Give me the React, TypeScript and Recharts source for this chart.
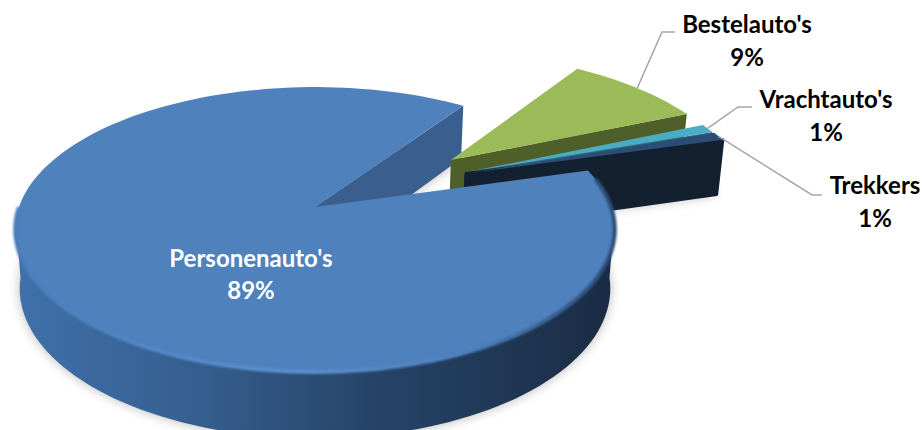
import React from "react";
import { PieChart, Pie } from "recharts";

const WIDTH = 923;
const HEIGHT = 430;

const categories = ["Personenauto's", "Bestelauto's", "Vrachtauto's", "Trekkers"];
const shares = [89, 9, 1, 1];

const rows = categories.map((name, i) => ({ name, value: shares[i] }));

const topColors = ["#4f81bd", "#9bbb59", "#4bacc6", "#2c4d75"];
const wallColors = ["#3a5f8e", "#4f5f2a", "#2a6f82", "#12202f"];

// exploded slices are shifted on the disc plane, in units of the radius
const explode = [
  [0, 0],
  [0.485, -0.357],
  [0.525, -0.258],
  [0.53, -0.25],
];

// label placement: text centre, two baselines and optional leader elbow
const labelSpots = [
  { x: 251, y1: 267, y2: 299, color: "#ffffff", elbow: null },
  { x: 747, y1: 33, y2: 66, color: "#000000", elbow: [[662, 32], [675, 32]] },
  { x: 826, y1: 108, y2: 141, color: "#000000", elbow: [[738, 107], [752, 107]] },
  { x: 875, y1: 194, y2: 227, color: "#000000", elbow: [[812, 195], [822, 195]] },
];

const PERSPECTIVE = -0.158;
const SQUASH = 0.469;
const BASE_SCALE = 0.985;
const DEPTH = 58;
const SLICE_START = 15.9;

const rad = (d: number) => (d * Math.PI) / 180;

// disc plane to screen, level 0 is the top face and level 1 the bottom face
const project = (cx, cy, R, u, v, level = 0) => {
  const w = 1 + PERSPECTIVE * v;
  const s = level ? BASE_SCALE : 1;
  return [cx + (s * R * u) / w, cy + (s * R * SQUASH * v) / w + (level * DEPTH) / w];
};

const rimPoint = (p, angle, shift, level = 0) =>
  project(p.cx, p.cy, p.outerRadius, shift[0] + Math.cos(rad(angle)), shift[1] - Math.sin(rad(angle)), level);

const toPath = (pts, close = true) =>
  pts.map((q, i) => `${i ? "L" : "M"}${q[0].toFixed(1)} ${q[1].toFixed(1)}`).join("") + (close ? "Z" : "");

const sweep = (from: number, to: number) => {
  const n = Math.max(2, Math.ceil(Math.abs(to - from) / 2));
  const out: number[] = [];
  for (let i = 0; i <= n; i++) out.push(from + ((to - from) * i) / n);
  return out;
};

const facePath = (p, shift, level = 0) => {
  const apex = project(p.cx, p.cy, p.outerRadius, shift[0], shift[1], level);
  return toPath([apex, ...sweep(p.startAngle, p.endAngle).map((a) => rimPoint(p, a, shift, level))]);
};

const wallPath = (p, shift) => {
  const a = project(p.cx, p.cy, p.outerRadius, shift[0], shift[1], 0);
  const b = project(p.cx, p.cy, p.outerRadius, shift[0], shift[1], 1);
  return toPath([a, rimPoint(p, p.endAngle, shift, 0), rimPoint(p, p.endAngle, shift, 1), b]);
};

// back layer: soft shadow, the cut wall of the big slice and the pulled-out slices
const BackSlice = (p) => {
  const i = categories.indexOf(p.name);
  const shift = explode[i];
  return (
    <g>
      <path d={facePath(p, shift, 1)} fill="#000000" opacity={0.28} filter="url(#pieShadow)" />
      <path d={wallPath(p, shift)} fill={wallColors[i]} stroke={wallColors[i]} strokeWidth={i === 3 ? 3 : 0} strokeLinejoin="round" />
      {i > 0 && <path d={facePath(p, shift)} fill={topColors[i]} />}
    </g>
  );
};

// front layer: outer side and top face of the big slice
const FrontSlice = (p) => {
  const i = categories.indexOf(p.name);
  if (i !== 0) return <g />;
  const shift = explode[0];
  const front = sweep(-175, -5 + 0).map((a) => a);
  const top = front.map((a) => rimPoint(p, a, shift, 0));
  const bottom = front.map((a) => rimPoint(p, a, shift, 1)).reverse();
  return (
    <g>
      <path d={toPath([...top, ...bottom])} fill="url(#rimSide)" />
      <path d={facePath(p, shift)} fill={topColors[0]} />
      <path d={toPath(sweep(-180, 12).map((a) => rimPoint(p, a, shift)), false)} fill="none" stroke="url(#rimEdge)" strokeWidth={4} filter="url(#rimSoft)" />
    </g>
  );
};

const renderLabel = (props) => {
  const i = categories.indexOf(props.name);
  const spot = labelSpots[i];
  const style = { fontFamily: "Lato", fontWeight: 700, fontSize: 24 };
  const start = rimPoint(props, props.midAngle, explode[i]);
  return (
    <g>
      {spot.elbow && (
        <polyline
          points={[start, ...spot.elbow].map((q) => q.join(",")).join(" ")}
          fill="none"
          stroke="#a6a6a6"
          strokeWidth={1.5}
        />
      )}
      <text x={spot.x} y={spot.y1} textAnchor="middle" fill={spot.color} style={style}>
        {props.name}
      </text>
      <text x={spot.x} y={spot.y2} textAnchor="middle" fill={spot.color} style={style}>
        {Math.round(props.percent * 100)}%
      </text>
    </g>
  );
};

export default function App() {
  const pieProps = {
    data: rows,
    dataKey: "value",
    nameKey: "name",
    cx: 315,
    cy: 207,
    innerRadius: 0,
    outerRadius: 296,
    startAngle: SLICE_START,
    endAngle: SLICE_START - 360,
    stroke: "none",
    isAnimationActive: false,
  };
  return (
    <div style={{ position: "fixed", left: 0, top: 0, width: WIDTH, height: HEIGHT, overflow: "hidden", background: "#fff" }}>
      <PieChart width={WIDTH} height={HEIGHT} margin={{ top: 0, right: 0, bottom: 0, left: 0 }}>
        <defs>
          <linearGradient id="rimSide" gradientUnits="userSpaceOnUse" x1={13} y1={0} x2={612} y2={0}>
            <stop offset="0" stopColor="#3f71aa" />
            <stop offset="0.3" stopColor="#365f90" />
            <stop offset="0.6" stopColor="#264468" />
            <stop offset="1" stopColor="#1a2c44" />
          </linearGradient>
          <linearGradient id="rimEdge" gradientUnits="userSpaceOnUse" x1={13} y1={0} x2={612} y2={0}>
            <stop offset="0" stopColor="#4a7cb8" />
            <stop offset="0.45" stopColor="#5c90d0" />
            <stop offset="0.75" stopColor="#4f81bd" />
            <stop offset="1" stopColor="#2b4c76" />
          </linearGradient>
          <filter id="pieShadow" x="-10%" y="-10%" width="120%" height="120%">
            <feGaussianBlur stdDeviation="6" />
          </filter>
          <filter id="rimSoft" x="-5%" y="-5%" width="110%" height="110%">
            <feGaussianBlur stdDeviation="1" />
          </filter>
        </defs>
        <Pie {...pieProps} shape={BackSlice} label={false} labelLine={false} />
        <Pie {...pieProps} shape={FrontSlice} label={renderLabel} labelLine={false} />
      </PieChart>
    </div>
  );
}
